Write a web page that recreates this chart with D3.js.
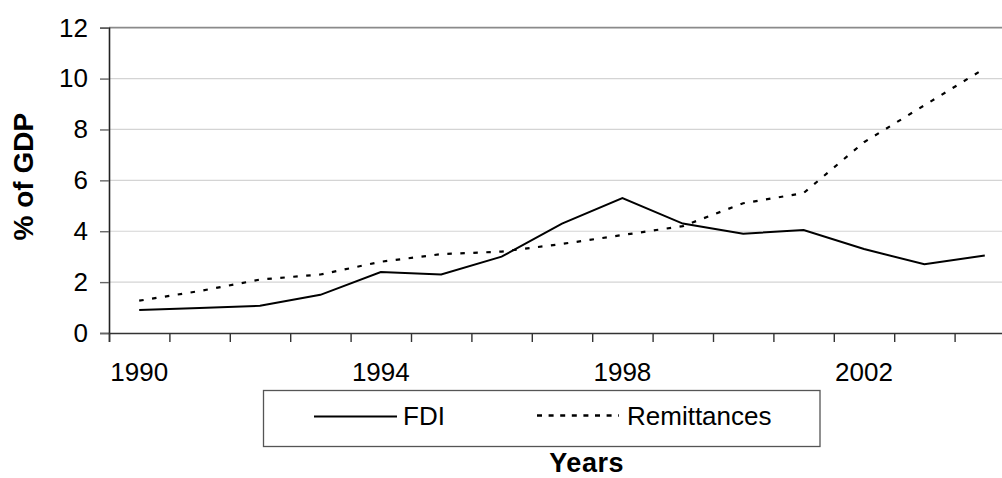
<!DOCTYPE html>
<html>
<head>
<meta charset="utf-8">
<script src="https://cdn.jsdelivr.net/npm/d3@7"></script>
<style>
  html, body { margin: 0; padding: 0; background: #fff; }
  svg { display: block; font-family: "Liberation Sans", Arial, sans-serif; }
</style>
</head>
<body>
<svg id="chart" width="1002" height="478"></svg>
<script>
const years = [1990, 1991, 1992, 1993, 1994, 1995, 1996, 1997, 1998, 1999, 2000, 2001, 2002, 2003, 2004];
const fdi = [0.9, 0.98, 1.07, 1.5, 2.4, 2.3, 3.0, 4.3, 5.3, 4.3, 3.9, 4.05, 3.3, 2.7, 3.05];
const remittances = [1.27, 1.65, 2.1, 2.3, 2.8, 3.1, 3.2, 3.5, 3.85, 4.2, 5.1, 5.5, 7.5, 8.95, 10.4];
const xTickLabels = ["1990", "1994", "1998", "2002"];
const yTicks = [0, 2, 4, 6, 8, 10, 12];
const seriesNames = ["FDI", "Remittances"];

const svg = d3.select("#chart");
const plotL = 109, plotR = 1015, plotT = 27.7, plotB = 333;

const x = d3.scaleBand().domain(years).range([plotL, plotR]).padding(0);
const xEdge = d3.scaleLinear().domain([0, years.length]).range([plotL, plotR]);
const y = d3.scaleLinear().domain([0, 12]).range([plotB, plotT]);

// gridlines
svg.append("g")
  .selectAll("line")
  .data(yTicks.filter(d => d > 0 && d < 12))
  .join("line")
  .attr("x1", plotL).attr("x2", plotR)
  .attr("y1", d => y(d)).attr("y2", d => y(d))
  .attr("stroke", "#d4d4d4").attr("stroke-width", 1.2);

// top border
svg.append("line")
  .attr("x1", plotL).attr("x2", plotR)
  .attr("y1", y(12)).attr("y2", y(12))
  .attr("stroke", "#8a8a8a").attr("stroke-width", 1.8);

// y axis
const yAxis = svg.append("g")
  .attr("transform", `translate(${plotL},0)`)
  .call(d3.axisLeft(y).tickValues(yTicks).tickSize(9).tickPadding(12).tickFormat(d3.format("d")));
yAxis.select(".domain").attr("stroke", "#222").attr("stroke-width", 1.6);
yAxis.selectAll(".tick line").attr("stroke", "#666").attr("stroke-width", 1.4);
yAxis.selectAll(".tick text").attr("font-size", 26).attr("fill", "#000")
  .attr("font-family", "Liberation Sans, Arial, sans-serif");

// x axis ticks at band edges
const xAxis = svg.append("g")
  .attr("transform", `translate(0,${plotB})`)
  .call(d3.axisBottom(xEdge).tickValues(d3.range(years.length + 1)).tickSize(9).tickFormat(""));
xAxis.select(".domain").attr("stroke", "#333").attr("stroke-width", 1.6);
xAxis.selectAll(".tick line").attr("stroke", "#333").attr("stroke-width", 1.4);

// x labels at band centers
const xLab = svg.append("g")
  .attr("transform", `translate(0,${plotB})`)
  .call(d3.axisBottom(x).tickValues(xTickLabels.map(Number)).tickSize(0).tickPadding(30));
xLab.select(".domain").remove();
xLab.selectAll(".tick text").attr("font-size", 26).attr("fill", "#000")
  .attr("font-family", "Liberation Sans, Arial, sans-serif");

// lines
const cx = (d, i) => x(years[i]) + x.bandwidth() / 2;
const line = d3.line().x(cx).y(d => y(d));

svg.append("path").datum(remittances)
  .attr("d", line).attr("fill", "none")
  .attr("stroke", "#000").attr("stroke-width", 2.2)
  .attr("stroke-dasharray", "4.5,8.5");

svg.append("path").datum(fdi)
  .attr("d", line).attr("fill", "none")
  .attr("stroke", "#000").attr("stroke-width", 2);

// legend
svg.append("rect")
  .attr("x", 263.5).attr("y", 390.5).attr("width", 556.5).attr("height", 56)
  .attr("fill", "#fff").attr("stroke", "#555").attr("stroke-width", 1.3);
svg.append("line")
  .attr("x1", 314).attr("x2", 397).attr("y1", 416.5).attr("y2", 416.5)
  .attr("stroke", "#000").attr("stroke-width", 2);
svg.append("text").attr("x", 403).attr("y", 424.5)
  .attr("font-size", 26).text(seriesNames[0]);
svg.append("line")
  .attr("x1", 537).attr("x2", 619).attr("y1", 415.5).attr("y2", 415.5)
  .attr("stroke", "#000").attr("stroke-width", 2.4)
  .attr("stroke-dasharray", "5,6.6");
svg.append("text").attr("x", 627).attr("y", 424.5)
  .attr("font-size", 26).text(seriesNames[1]);

// axis titles
svg.append("text")
  .attr("x", 586.7).attr("y", 471.5)
  .attr("text-anchor", "middle").attr("font-size", 27).attr("font-weight", "bold")
  .attr("letter-spacing", 0.6)
  .text("Years");
svg.append("text")
  .attr("transform", "translate(33.3,176.7) rotate(-90)")
  .attr("text-anchor", "middle").attr("font-size", 28).attr("font-weight", "bold")
  .text("% of GDP");
</script>
</body>
</html>
